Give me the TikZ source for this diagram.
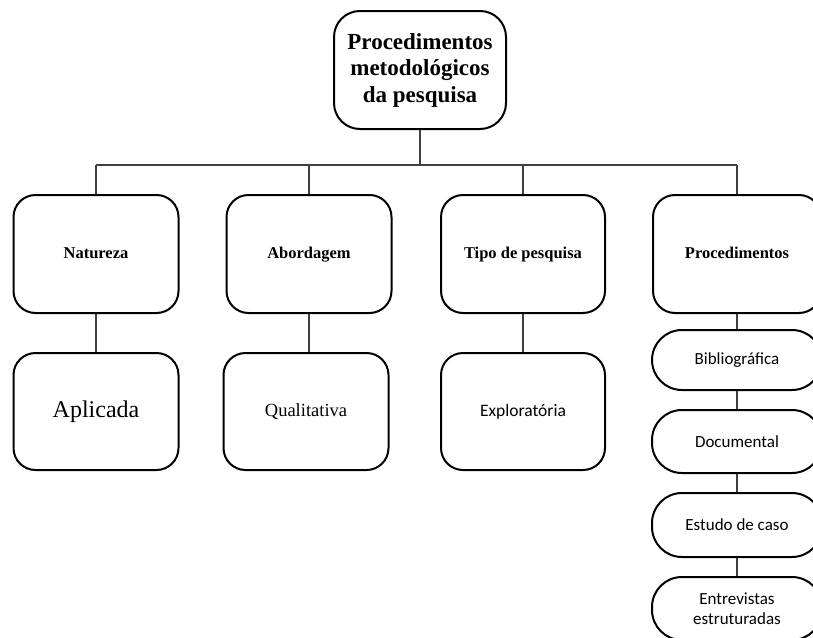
\documentclass[tikz,border=0pt]{standalone}
\usepackage{fontspec}
\setmainfont{Liberation Serif}
\newfontfamily\calibfont{Carlito}
\begin{document}
\begin{tikzpicture}[x=1pt,y=-1pt,
  box/.style={draw=black, line width=2pt, rounded corners=22pt, align=center, inner sep=2pt},
  headbox/.style={box, minimum height=118pt, text height=12pt, text depth=4pt, font=\bfseries\fontsize{16.5}{19}\selectfont},
  pill/.style={draw=black, line width=2pt, rounded corners=30pt, align=center, inner sep=2pt, minimum width=170pt, font=\calibfont\fontsize{17}{20}\selectfont},
  conn/.style={draw=black!75, line width=1.3pt}
]
\clip (0,0) rectangle (813,637);
\fill[white] (0,0) rectangle (813,637);

% top node
\node[box, minimum width=172pt, minimum height=118pt, rounded corners=26pt,
      font=\bfseries\fontsize{23}{26.5}\selectfont] (top) at (420,70)
      {Procedimentos\\metodológicos\\da pesquisa};

% second row
\node[headbox, minimum width=165pt] (nat) at (96,254) {Natureza};
\node[headbox, minimum width=165pt] (abo) at (309,254) {Abordagem};
\node[headbox, minimum width=164pt] (tipo) at (523,254) {Tipo de pesquisa};
\node[headbox, minimum width=168pt] (proc) at (737,254) {Procedimentos};

% third row
\node[box, minimum width=165pt, minimum height=117pt, font=\fontsize{24}{28}\selectfont] (apl) at (96,411.5) {Aplicada};
\node[box, minimum width=165pt, minimum height=117pt, font=\fontsize{18.5}{22}\selectfont] (qual) at (306,411.5) {Qualitativa};
\node[box, minimum width=164pt, minimum height=117pt, font=\calibfont\fontsize{17.5}{20}\selectfont] (expl) at (523,411.5) {Exploratória};

% procedures column
\node[pill, minimum height=60pt] (bib) at (737,360) {Bibliográfica};
\node[pill, minimum height=63pt] (doc) at (737,441.5) {Documental};
\node[pill, minimum height=64pt] (est) at (737,525) {Estudo de caso};
\node[pill, minimum height=63pt] (ent) at (737,608.5) {Entrevistas\\estruturadas};

% bus
\coordinate (bus) at (420,165);
\draw[conn] (top.south) -- (top.south |- bus);
\draw[conn] (nat.north |- bus) -- (proc.north |- bus);
\draw[conn] (nat.north |- bus) -- (nat.north);
\draw[conn] (abo.north |- bus) -- (abo.north);
\draw[conn] (tipo.north |- bus) -- (tipo.north);
\draw[conn] (proc.north |- bus) -- (proc.north);

% vertical connectors
\draw[conn] (nat.south) -- (nat.south |- apl.north);
\draw[conn] (abo.south) -- (abo.south |- qual.north);
\draw[conn] (tipo.south) -- (tipo.south |- expl.north);
\draw[conn] (proc.south) -- (bib.north);
\draw[conn] (bib.south) -- (doc.north);
\draw[conn] (doc.south) -- (est.north);
\draw[conn] (est.south) -- (ent.north);
\end{tikzpicture}
\end{document}
